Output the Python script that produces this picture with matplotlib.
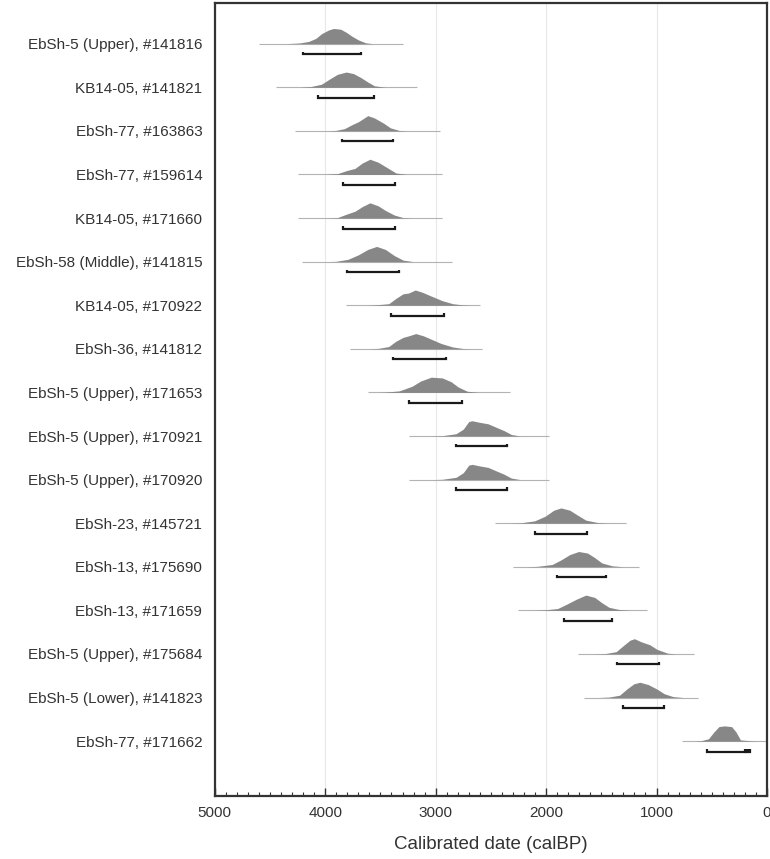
import matplotlib
matplotlib.use('Agg')
import matplotlib.pyplot as plt
from matplotlib.ticker import MultipleLocator

plt.rcParams['font.family'] = ['Liberation Sans', 'DejaVu Sans']

# sample labels, top to bottom
labels = [
    'EbSh-5 (Upper), #141816', 'KB14-05, #141821', 'EbSh-77, #163863',
    'EbSh-77, #159614', 'KB14-05, #171660', 'EbSh-58 (Middle), #141815',
    'KB14-05, #170922', 'EbSh-36, #141812', 'EbSh-5 (Upper), #171653',
    'EbSh-5 (Upper), #170921', 'EbSh-5 (Upper), #170920', 'EbSh-23, #145721',
    'EbSh-13, #175690', 'EbSh-13, #171659', 'EbSh-5 (Upper), #175684',
    'EbSh-5 (Lower), #141823', 'EbSh-77, #171662',
]

# extent of the thin tail line (calBP)
tail_old = [4600, 4450, 4275, 4250, 4250, 4210, 3810, 3780, 3610, 3240,
            3240, 2460, 2300, 2250, 1715, 1660, 770]
tail_young = [3300, 3165, 2960, 2940, 2940, 2855, 2595, 2580, 2330, 1970,
              1970, 1275, 1155, 1085, 660, 625, 0]

# calibrated probability (dates calBP, height rel. to peak)
dens_dates = [
    [4360, 4230, 4150, 4085, 4035, 3970, 3925, 3860, 3810, 3760, 3700, 3635, 3570],
    [4230, 4130, 4035, 3970, 3890, 3810, 3745, 3680, 3615, 3555, 3455],
    [3990, 3905, 3825, 3760, 3700, 3615, 3555, 3470, 3410, 3330, 3260],
    [3990, 3890, 3810, 3730, 3665, 3595, 3520, 3440, 3360, 3265],
    [3990, 3890, 3810, 3730, 3665, 3595, 3520, 3455, 3375, 3295, 3230],
    [3990, 3905, 3795, 3700, 3615, 3535, 3455, 3375, 3295, 3200],
    [3620, 3555, 3425, 3360, 3295, 3245, 3185, 3120, 3040, 2940, 2845, 2750, 2680],
    [3600, 3520, 3425, 3360, 3295, 3245, 3180, 3110, 3030, 2950, 2845, 2750, 2680],
    [3520, 3455, 3330, 3215, 3135, 3040, 2940, 2860, 2795, 2715, 2620],
    [3040, 2940, 2815, 2750, 2700, 2670, 2605, 2525, 2445, 2380, 2315, 2235],
    [3040, 2940, 2815, 2750, 2700, 2670, 2605, 2525, 2445, 2380, 2315, 2235],
    [2330, 2235, 2105, 2010, 1930, 1865, 1785, 1720, 1640, 1525, 1430],
    [2180, 2075, 1945, 1865, 1785, 1705, 1625, 1560, 1495, 1400, 1300],
    [2120, 2010, 1895, 1815, 1720, 1640, 1560, 1495, 1430, 1335, 1235],
    [1560, 1460, 1365, 1300, 1240, 1200, 1140, 1060, 995, 900, 820],
    [1530, 1430, 1335, 1270, 1205, 1150, 1075, 995, 930, 850, 755],
    [660, 595, 530, 480, 435, 385, 320, 280, 240, 175, 110, 40],
]
dens_heights = [
    [0.0, 0.05, 0.15, 0.35, 0.65, 0.9, 1.0, 0.95, 0.75, 0.5, 0.25, 0.06, 0.0],
    [0.0, 0.05, 0.2, 0.5, 0.85, 1.0, 0.9, 0.65, 0.35, 0.1, 0.0],
    [0.0, 0.03, 0.15, 0.4, 0.6, 1.0, 0.85, 0.5, 0.2, 0.03, 0.0],
    [0.0, 0.05, 0.25, 0.4, 0.75, 1.0, 0.8, 0.45, 0.1, 0.0],
    [0.0, 0.03, 0.25, 0.45, 0.75, 1.0, 0.8, 0.5, 0.2, 0.03, 0.0],
    [0.0, 0.02, 0.15, 0.45, 0.8, 1.0, 0.8, 0.4, 0.1, 0.0],
    [0.0, 0.02, 0.1, 0.45, 0.75, 0.8, 1.0, 0.85, 0.6, 0.3, 0.1, 0.02, 0.0],
    [0.0, 0.03, 0.15, 0.5, 0.75, 0.85, 1.0, 0.85, 0.6, 0.35, 0.12, 0.02, 0.0],
    [0.0, 0.02, 0.1, 0.4, 0.75, 1.0, 0.95, 0.7, 0.35, 0.08, 0.0],
    [0.0, 0.02, 0.15, 0.45, 0.95, 1.0, 0.9, 0.8, 0.55, 0.35, 0.1, 0.0],
    [0.0, 0.02, 0.15, 0.45, 0.95, 1.0, 0.9, 0.8, 0.55, 0.35, 0.1, 0.0],
    [0.0, 0.02, 0.15, 0.45, 0.85, 1.0, 0.85, 0.55, 0.2, 0.03, 0.0],
    [0.0, 0.03, 0.15, 0.45, 0.8, 1.0, 0.9, 0.6, 0.25, 0.06, 0.0],
    [0.0, 0.03, 0.12, 0.4, 0.75, 1.0, 0.85, 0.5, 0.2, 0.05, 0.0],
    [0.0, 0.03, 0.15, 0.55, 0.9, 1.0, 0.8, 0.6, 0.3, 0.05, 0.0],
    [0.0, 0.03, 0.15, 0.55, 0.9, 1.0, 0.85, 0.55, 0.25, 0.06, 0.0],
    [0.0, 0.03, 0.15, 0.6, 0.95, 1.0, 0.95, 0.6, 0.08, 0.04, 0.01, 0.0],
]

# 95% ranges (old, young) per sample
ranges = [
    [(4200, 3675)], [(4065, 3560)], [(3850, 3385)], [(3835, 3370)],
    [(3835, 3370)], [(3805, 3330)], [(3400, 2920)], [(3390, 2905)],
    [(3240, 2765)], [(2820, 2355)], [(2820, 2355)], [(2100, 1630)],
    [(1905, 1460)], [(1840, 1400)], [(1360, 975)], [(1300, 930)],
    [(540, 200), (190, 178), (162, 152)],
]

fig = plt.figure(figsize=(7.7, 8.59), dpi=100)
ax = fig.add_axes([0.279, 0.0733, 0.717, 0.9235])

peak = 0.35      # height of a curve, in row units
drop = 0.24      # bracket below the baseline
tick_h = 0.06

for i in range(len(labels)):
    ax.plot([tail_old[i], tail_young[i]], [i, i], color='#b3b3b3', lw=0.8,
            zorder=2, solid_capstyle='butt')
    ys = [i - peak * h for h in dens_heights[i]]
    ax.fill_between(dens_dates[i], i, ys, color='#878787', lw=0, zorder=3)
    yb = i + drop
    for a, b in ranges[i]:
        ax.plot([a, a, b, b], [yb - tick_h, yb, yb, yb - tick_h],
                color='#1a1a1a', lw=1.6, zorder=4, solid_capstyle='butt',
                solid_joinstyle='miter')

ax.set_xlim(5000, 0)
ax.set_ylim(len(labels) - 1 + 1.26, -0.94)
ax.set_yticks(range(len(labels)))
ax.set_yticklabels(labels, fontsize=11, color='#333333')
ax.tick_params(axis='y', length=0, pad=9)

ax.xaxis.set_major_locator(MultipleLocator(1000))
ax.xaxis.set_minor_locator(MultipleLocator(100))
ax.tick_params(axis='x', which='major', direction='in', length=6, width=1,
               color='#333333', labelsize=11, labelcolor='#333333', pad=7)
ax.tick_params(axis='x', which='minor', direction='in', length=3, width=0.8,
               color='#333333')
ax.grid(axis='x', which='major', color='#e8e8e8', lw=0.8, zorder=0)
ax.set_axisbelow(True)

for s in ax.spines.values():
    s.set_color('#333333')
    s.set_linewidth(1.6)

ax.set_xlabel('Calibrated date (calBP)', fontsize=13.5, color='#333333', labelpad=12)

fig.savefig('out.png', dpi=100)
